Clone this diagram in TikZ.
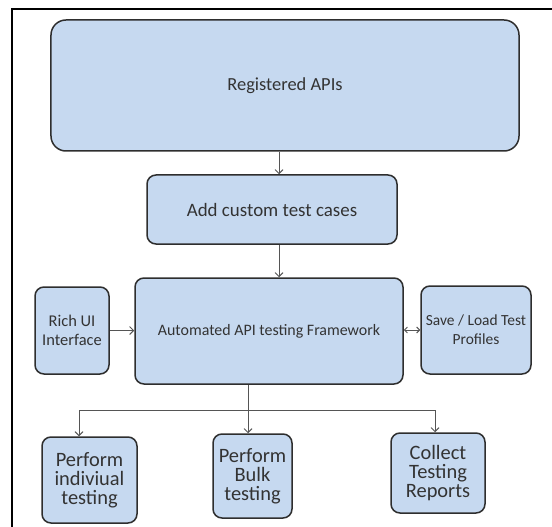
\documentclass[tikz,border=0pt]{standalone}
\usepackage{fontspec}
\setmainfont{Carlito}
\usetikzlibrary{arrows.meta}
\definecolor{boxfill}{HTML}{C6D9F0}
\definecolor{boxline}{HTML}{2E2E2E}
\definecolor{txt}{HTML}{333333}
\definecolor{wire}{HTML}{555555}
\tikzset{
  box/.style={draw=boxline, line width=1.5bp, fill=boxfill, rounded corners=9bp,
    align=center, text=txt, inner sep=0pt, font=\fontsize{16.5}{19.5}\selectfont},
  midbox/.style={box, font=\fontsize{16}{19}\selectfont},
  bigbox/.style={box, font=\fontsize{19}{22}\selectfont},
  leafbox/.style={box, font=\fontsize{20.5}{19}\selectfont},
  wireline/.style={draw=wire, line width=0.9bp},
  arr/.style={wireline, -{Straight Barb[length=4bp,width=8bp]}},
  biarr/.style={wireline, {Straight Barb[length=3bp,width=6bp]}-{Straight Barb[length=3bp,width=6bp]}}
}
\begin{document}
\begin{tikzpicture}[x=1bp, y=-1bp]
\useasboundingbox (0,0) rectangle (552,527);
% outer frame, cut by the page edge on the right and bottom
\draw[black, line width=1.8bp] (12,540) -- (12,9) -- (560,9);

\node[box, rounded corners=15bp, font=\fontsize{18.5}{22}\selectfont, minimum width=468bp, minimum height=131bp] (reg) at (285,85.5) {Registered APIs};
\node[bigbox, minimum width=250bp, minimum height=69bp] (add) at (272,209.5) {Add custom test cases};
\node[midbox, minimum width=268bp, minimum height=106bp] (auto) at (269,331) {Automated API testing Framework};
\node[box, minimum width=74bp, minimum height=87bp] (rich) at (72,330.5) {Rich UI\\Interface};
\node[box, font=\fontsize{15.5}{19}\selectfont, minimum width=110bp, minimum height=88bp] (save) at (476,330) {Save / Load Test\\Profiles};
\node[leafbox, minimum width=95bp, minimum height=86bp] (indiv) at (89.5,480) {Perform\\indiviual\\testing};
\node[leafbox, minimum width=79bp, minimum height=84bp] (bulk) at (252.5,476) {Perform\\Bulk\\testing};
\node[leafbox, minimum width=94bp, minimum height=80bp] (collect) at (438,473) {Collect\\Testing\\Reports};

% connector guide lines
\coordinate (topline) at (279,0);
\coordinate (midline) at (248,0);
\coordinate (leftline) at (79,0);
\coordinate (rightline) at (435,0);
\coordinate (branch) at (0,410);

\draw[arr] (reg.south -| topline) -- (add.north -| topline);
\draw[arr] (add.south -| topline) -- (auto.north -| topline);
\draw[arr] (rich.east) -- (rich.east -| auto.west);
\draw[biarr] (save.west -| auto.east) -- (save.west);
\draw[arr] (auto.south -| midline) -- (bulk.north -| midline);
\draw[wireline] (branch -| leftline) -- (branch -| rightline);
\draw[arr] (branch -| leftline) -- (indiv.north -| leftline);
\draw[arr] (branch -| rightline) -- (collect.north -| rightline);
\end{tikzpicture}
\end{document}
